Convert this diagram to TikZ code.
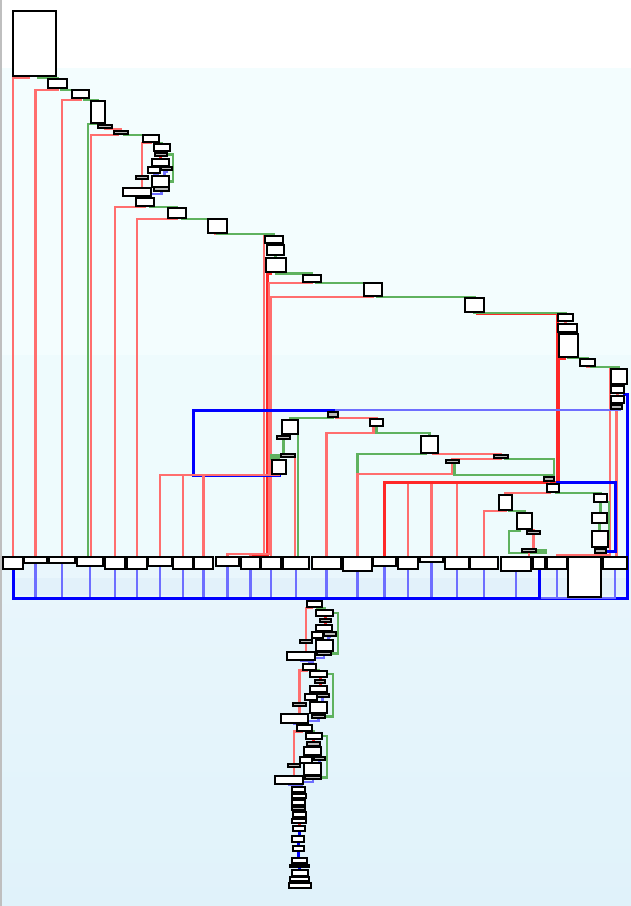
\documentclass[tikz,border=0pt]{standalone}
\usepackage{xcolor}
\usepackage{tikz}
\usetikzlibrary{shadows}

\definecolor{cfgred}{RGB}{255,110,110}
\definecolor{cfgdeep}{RGB}{255,40,40}
\definecolor{cfggreen}{RGB}{95,178,95}
\definecolor{cfgblue}{RGB}{110,110,255}
\definecolor{bgtop}{RGB}{243,253,254}
\definecolor{bgmid}{RGB}{238,251,253}
\definecolor{bglow}{RGB}{233,246,252}
\definecolor{bgdeep}{RGB}{224,242,250}
\definecolor{bgband}{RGB}{226,241,250}

\pgfdeclarelayer{bgfill}
\pgfdeclarelayer{edges}
\pgfsetlayers{bgfill,edges,main}

\begin{document}
\begin{tikzpicture}[x=1pt,y=-1pt,
  blk/.style={draw=black,line width=1.6pt,fill=white,inner sep=0pt,outer sep=0pt,
    drop shadow={shadow xshift=1.4pt,shadow yshift=-1.4pt,opacity=.35}},
  sblk/.style={blk,fill=gray!55},
  rd/.style={draw=cfgred,line width=2.6pt},
  rdk/.style={draw=cfgdeep,line width=3pt},
  gn/.style={draw=cfggreen,line width=2.2pt},
  bl/.style={draw=cfgblue,line width=2.4pt},
  bbl/.style={draw=blue,line width=3pt}]
             \useasboundingbox (0,0) rectangle (631,906);

             \foreach \n/\xa/\ya/\xb/\yb in {t0/13/11/56/76, c1/48/79/67/88, c2/72/90/89/98,
                 c3/91/101/105/123, c6/143/135/159/142, k1/154/144/170/151, k3/152/159/169/166,
                 k4/148/167/160/173, k6/152/176/169/187, k9/123/188/151/196, k10/136/198/154/206,
                 c7/168/208/186/218, c8/208/219/227/233, d1/265/236/283/243, d2/267/245/284/255,
                 d3/266/258/286/272, d4/303/275/321/282, d5/364/283/382/296, d6/465/298/484/312,
                 e1/558/314/573/321, e2/558/324/577/332, e3/559/334/578/357, e4/580/359/595/366,
                 e5/611/369/627/384, e6/611/386/624/393, e7/611/396/624/403,
                 g2/282/420/298/434, g5/272/460/286/474, g6/370/419/383/426, g7/421/436/438/453,
                 g11/547/484/559/492, h1/499/495/512/510, h2/517/513/532/529,
                 j1/594/494/607/502, j2/592/513/607/523, j3/592/531/608/547,
                 l1/307/601/322/607, l2/316/610/333/616, l4/316/625/332/631, l5/312/632/323/638,
                 l7/316/640/333/651, l10/287/652/315/660, l11/303/664/316/670,
                 m1/310/671/327/677, m3/310/686/327/692, m4/305/694/317/700, m6/310/702/327/713,
                 m9/281/714/308/723, m10/297/725/312/731,
                 n1/306/733/322/739, n3/304/747/321/755, n4/300/757/312/763, n6/304/763/321/775,
                 n9/275/776/303/784,
                 p1/292/787/305/792, p2/292/794/306/798, p3/292/800/305/805, p5/293/812/306/817,
                 p6/292/819/306/823, p7/293/826/305/831, p8/292/836/304/842, p9/293/846/304/851,
                 p10/292/858/307/863, p12/292/870/308/876, p13/290/877/309/881, p14/289/883/311/888}
               \node[blk,minimum width={\xb-\xa},minimum height={\yb-\ya}] (\n) at ({(\xa+\xb)/2},{(\ya+\yb)/2}) {};

             \foreach \n/\xa/\ya/\xb/\yb in {c4/98/125/112/128, c5/114/131/128/134, k2/155/153/167/156,
                 k5/161/167/172/170, k7/154/187/169/191, k8/136/176/148/179, e8/611/405/622/409,
                 g1/328/412/338/417, g3/277/436/290/439, g4/281/454/295/457, g8/494/455/508/458,
                 g9/446/460/459/463, g10/544/477/554/481, h3/527/531/540/534, h4/522/549/536/552,
                 j4/595/549/606/553, l3/320/619/331/622, l6/324/632/336/636, l8/317/652/331/655,
                 l9/300/640/312/643, m2/315/680/325/683, m5/317/694/329/697, m7/312/715/325/718,
                 m8/293/703/306/706, n2/307/742/320/746, n5/314/757/325/760, n7/305/776/321/779,
                 n8/288/764/300/767, p4/292/807/305/810, p11/290/865/309/867}
               \node[sblk,minimum width={\xb-\xa},minimum height={\yb-\ya}] (\n) at ({(\xa+\xb)/2},{(\ya+\yb)/2}) {};

             \foreach \i/\xa/\xb/\yb in {1/3/23/569, 2/24/47/563, 3/49/75/563, 4/77/103/566,
                 5/105/125/569, 6/127/147/569, 7/148/172/566, 8/173/193/569, 9/194/213/569,
                 10/216/239/566, 11/241/260/569, 12/261/281/569, 13/283/309/569, 14/312/341/569,
                 15/343/372/571, 16/373/396/566, 17/398/418/569, 18/420/443/562, 19/445/469/569,
                 20/470/498/569, 21/501/531/571, 22/533/545/569, 23/547/567/569, 24/568/601/597,
                 25/603/627/569}
               \node[blk,minimum width={\xb-\xa},minimum height={\yb-557}] (r\i) at ({(\xa+\xb)/2},{(557+\yb)/2}) {};

             \coordinate (bus) at (0,598);
             \coordinate (trk) at (557,482);
             \coordinate (trl) at (264,554);
             \coordinate (rgt) at (627,598);
             \coordinate (lp1) at (193,410);
             \coordinate (rp1) at (615,482);
             \coordinate (ef) at (610,555);
             \coordinate (gv) at (554,475);
             \coordinate (hl) at (509,553);
             \coordinate (hr) at (546,553);

             \begin{pgfonlayer}{bgfill}
             \fill[white] (0,0) rectangle (631,906);
             \fill[bgtop] (0,68) rectangle (631,355);
             \fill[bgmid] (0,355) rectangle (631,560);
             \shade[top color=bglow,bottom color=bgdeep] (0,560) rectangle (631,906);
             \fill[bgband] (12,578) rectangle (626,595);
             \draw[gray!50,line width=1.5pt] (1,0) -- (1,906);
             \end{pgfonlayer}

             \begin{pgfonlayer}{edges}
             \draw[rd] ([xshift=-6]t0.south) -- ++(0,2) -| (r1.north);
             \draw[gn] ([xshift=4]t0.south) -- ++(0,2) -| (c1.north);
             \draw[rd] (c1.south) -- ++(0,2) -| (r2.north);
             \draw[gn] ([xshift=4]c1.south) -- ++(0,2) -| (c2.north);
             \draw[rd] (c2.south) -- ++(0,2) -| (r3.north);
             \draw[gn] ([xshift=4]c2.south) -- ++(0,2) -| (c3.north);
             \draw[gn] (c3.south) -- ++(0,1) -| ([xshift=-2]r4.north);
             \draw[rd] (c4.north) -- (c4.north |- c3.south);
             \draw[rd] (c4.south) -- ++(0,1) -| (c5.north);
             \draw[rd] ([xshift=-3]c5.south) -- ++(0,1) -| ([xshift=1]r4.north);
             \draw[gn] ([xshift=3]c5.south) -- ++(0,1) -| (c6.north);

             \draw[rd] (c6.south) -- ++(0,1) -| (k8.north);
             \draw[gn] ([xshift=4]c6.south) -- ++(0,1) -| (k1.north);
             \draw[rdk] (k2.north) -- (k2.north |- k1.south);
             \draw[rdk] (k3.north) -- (k3.north |- k2.south);
             \draw[gn] (k2.east) -- ++(6,0) |- (k6.east);
             \draw[bl] (k4.south) -- ++(0,1) -| ([xshift=-3]k6.north);
             \draw[bl] (k5.south) -- ++(0,2) -| ([xshift=4]k6.north);
             \draw[rd] (k8.south) -- (k8.south |- k9.north);
             \draw[bl] (k7.south) -- ++(0,3) -| ([xshift=3]k10.north);
             \draw[bl] (k9.south) -- ++(0,1) -| (k10.north);
             \draw[rd] (k10.south) -- ++(0,1) -| (r5.north);
             \draw[gn] ([xshift=5]k10.south) -- ++(0,1) -| (c7.north);
             \draw[rd] (c7.south) -- ++(0,1) -| (r6.north);
             \draw[gn] ([xshift=5]c7.south) -- ++(0,1) -| (c8.north);

             \draw[rd] ([xshift=-2]c8.south) -- ++(0,1) -| (trl) -| (r10.north);
             \draw[gn] (c8.south) -- ++(0,1) -| (d1.north);
             \draw[rd] (d1.south) -- (d1.south |- d2.north);
             \draw[gn] (d2.south) -- (d2.south |- d3.north);
             \draw[gn] (d3.south) -- ++(0,1.5) -| (d4.north);
             \draw[rdk] ([xshift=-6]d3.south) -- ++(0,1) -| ([xshift=3]trl) -| (r11.north);
             \draw[rd] (d4.south) -- ++(0,1) -| ([xshift=5]trl) -| (r11.north);
             \draw[gn] ([xshift=4]d4.south) -- ++(0,1) -| (d5.north);
             \draw[rd] (d5.south) -- ++(0,1) -| (r12.north);
             \draw[gn] ([xshift=4]d5.south) -- ++(0,1) -| (d6.north);
             \foreach \r in {17,18,19}
               \draw[rd] ([xshift=3]d6.south) -- ++(0,1) -| (trk) -| (r\r.north);
             \draw[rdk] ([xshift=3]d6.south) -- ++(0,1) -| (trk) -| (r16.north);
             \draw[gn] (d6.south) -- ++(0,1) -| (e1.north);

             \draw[rd] (e1.south) -- (e1.south |- e2.north);
             \draw[gn] (e2.south) -- (e2.south |- e3.north);
             \draw[gn] (e3.south) -- ++(0,1) -| (e4.north);
             \draw[rdk] ([xshift=-4]e3.south) -- ++(0,1) -| ([xshift=1]trk) -| (r16.north);
             \draw[rd] (e4.south) -- ++(0,1) -| (ef) -| (r23.north);
             \draw[gn] ([xshift=4]e4.south) -- ++(0,1) -| (e5.north);
             \draw[rd] (e5.south) -- (e5.south |- e6.north);
             \draw[rd] (e6.south) -- (e6.south |- e7.north);
             \draw[gn] (e7.south) -- (e7.south |- e8.north);
             \draw[rd] (e8.south) -- (e8.south |- r25.north);
             \draw[bl] ([xshift=3]e8.south) -- ++(0,1) -| (g1.north);
             \draw[bbl] (e6.south east) -- ++(0,1) -| (rgt) -| (l1.north);

             \draw[bbl] (g5.south) -- ++(0,1) -| (lp1) -| (g1.north);
             \draw[gn] (g1.south) -- ++(0,1) -| (g2.north);
             \draw[rd] ([xshift=3]g1.south) -- ++(0,1) -| (g6.north);
             \draw[rd] (g3.north) -- (g3.north |- g2.south);
             \draw[gn] (g3.south) -- (g3.south |- g4.north);
             \draw[gn] (g4.west) -- ++(-10,0) -- ++(0,3) -| (g5.north);
             \draw[gn] (g2.south east) -- (g2.south east |- r13.north);
             \draw[rd] (g4.south east) -- (g4.south east |- r13.north);
             \foreach \r in {7,8,9}
               \draw[rd] (g5.south) -- ++(0,1) -| (r\r.north);
             \draw[gn] (g6.south) -- ++(0,7) -| (g7.north);
             \draw[rd] ([xshift=-3]g6.south) -- ++(0,7) -| (r14.north);
             \draw[rd] ([xshift=4]g7.south) -- ++(0,1) -| (g8.north);
             \draw[gn] ([xshift=-4]g7.south) -- ++(0,1) -| (r15.north);
             \draw[rd] (g8.south) -- ++(0,1) -| (g9.north);
             \draw[gn] ([xshift=4]g8.south) -- ++(0,1) -| (gv) -| (g10.north);
             \draw[rd] (g9.south) -- ++(0,11) -| (r15.north);
             \draw[gn] ([xshift=2]g9.south) -- ++(0,12) -| (g10.north);
             \draw[rd] (g10.south) -- (g10.south |- g11.north);
             \draw[gn] ([xshift=3]g11.south) -- ++(0,1) -| (j1.north);
             \draw[rd] ([xshift=-3]g11.south) -- ++(0,1) -| (h1.north);
             \draw[bbl] (j4.east) -| (rp1) -| ([xshift=4]g11.north);

             \draw[rd] (h1.south) -- ++(0,1) -| (r20.north);
             \draw[gn] ([xshift=4]h1.south) -- ++(0,1) -| (h2.north);
             \draw[rd] ([xshift=4]h2.south) -- ++(0,1) -| (h3.north);
             \draw[rd] (h3.south) -- (h3.south |- h4.north);
             \draw[gn] ([xshift=3]h2.south west) -- ++(0,2) -| (hl) -- (hr) |- (h4.east);
             \draw[rd] (h4.south) -- (h4.south |- r21.north);
             \draw[gn] (j1.south) -- (j1.south |- j2.north);
             \draw[gn] (j2.south) -- (j2.south |- j3.north);
             \draw[gn] (j3.south) -- (j3.south |- j4.north);
             \draw[gn] (j1.south east) -- ++(2,0) |- (j3.east);
             \draw[rd] (j4.south) -- (j4.south |- r24.north);

             \foreach \i in {1,...,25}
               \draw[bl] (r\i.south) -- (r\i.south |- bus) -| (l1.north);
             \draw[bbl] (r1.south) -- (r1.south |- bus) -| (l1.north);
             \draw[bbl] (r22.south) -- (r22.south |- bus) -| (l1.north);

             \draw[gn] ([xshift=3]l1.south) -- ++(0,1) -| (l2.north);
             \draw[rd] ([xshift=-3]l1.south) -- ++(0,1) -| (l9.north);
             \draw[rdk] (l3.north) -- (l3.north |- l2.south);
             \draw[rdk] (l3.south) -- (l3.south |- l4.north);
             \draw[gn] (l2.east) -- ++(5,0) |- (l8.east);
             \draw[bl] (l5.south) -- ++(0,1) -| ([xshift=-3]l7.north);
             \draw[bl] (l6.south) -- ++(0,1) -| ([xshift=4]l7.north);
             \draw[rd] (l9.south) -- (l9.south |- l10.north);
             \draw[bl] (l8.south) -- ++(0,3) -| ([xshift=3]l11.north);
             \draw[bl] (l10.south) -- ++(0,1) -| (l11.north);
             \draw[gn] ([xshift=3]l11.south) -- ++(0,0.5) -| (m1.north);
             \draw[rd] ([xshift=-3]l11.south) -- ++(0,0.5) -| (m8.north);

             \draw[rdk] (m2.north) -- (m2.north |- m1.south);
             \draw[rdk] (m2.south) -- (m2.south |- m3.north);
             \draw[gn] (m1.east) -- ++(6,0) |- (m7.east);
             \draw[bl] (m4.south) -- ++(0,1) -| ([xshift=-3]m6.north);
             \draw[bl] (m5.south) -- ++(0,1) -| ([xshift=4]m6.north);
             \draw[rd] (m8.south) -- (m8.south |- m9.north);
             \draw[bl] (m7.south) -- ++(0,3) -| ([xshift=3]m10.north);
             \draw[bl] (m9.south) -- ++(0,1) -| (m10.north);
             \draw[gn] ([xshift=3]m10.south) -- ++(0,0.5) -| (n1.north);
             \draw[rd] ([xshift=-3]m10.south) -- ++(0,0.5) -| (n8.north);

             \draw[rdk] (n2.north) -- (n2.north |- n1.south);
             \draw[rdk] (n2.south) -- (n2.south |- n3.north);
             \draw[gn] (n1.east) -- ++(5,0) |- (n7.east);
             \draw[bl] (n5.south) -- (n5.south |- n6.north);
             \draw[rd] (n8.south) -- (n8.south |- n9.north);
             \draw[bl] (n7.south) -- ++(0,3) -| ([xshift=3]p1.north);
             \draw[bl] (n9.south) -- ++(0,1) -| (p1.north);
             \foreach \a/\b/\c in {1/2/rdk,2/3/bbl,3/4/rdk,4/5/bbl,5/6/bbl,6/7/rdk,7/8/bbl,8/9/bbl,
                 9/10/bbl,10/11/gn,11/12/bbl,12/13/gn,13/14/bbl}
               \draw[\c] (p\a.south) -- (p\a.south |- p\b.north);
             \end{pgfonlayer}
             \end{tikzpicture}
\end{document}
